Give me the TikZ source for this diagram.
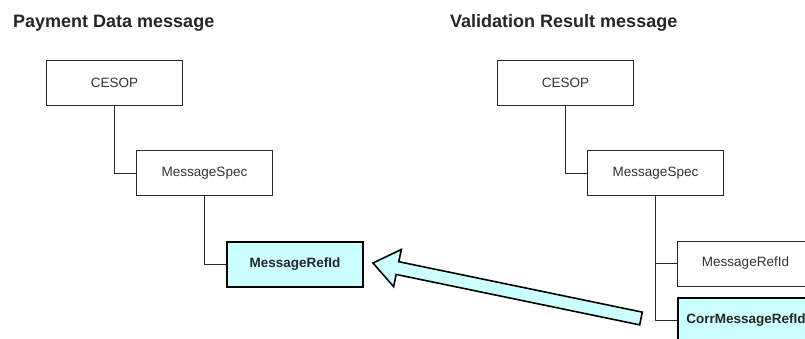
\documentclass[tikz,border=0pt]{standalone}
\usepackage{fontspec}
\setmainfont{Liberation Sans}
\usetikzlibrary{calc}
\definecolor{hl}{RGB}{204,255,255}
\definecolor{txt}{RGB}{51,51,51}
\definecolor{edge}{RGB}{40,40,40}
\begin{document}
\begin{tikzpicture}[x=1pt,y=-1pt,
  box/.style={draw=edge,line width=1pt,fill=white,minimum width=136pt,minimum height=45pt,inner sep=0pt,font=\fontsize{13.5}{15}\selectfont,text=txt,anchor=north west},
  hbox/.style={draw=black,line width=2pt,fill=hl,minimum width=136pt,minimum height=45pt,inner sep=0pt,font=\fontsize{13.5}{15}\selectfont\bfseries,text=black!85,anchor=north west},
  title/.style={font=\fontsize{18}{20}\selectfont\bfseries,text=black!85,anchor=base west,inner sep=0pt},
  link/.style={draw=edge,line width=1pt}]
\useasboundingbox (0,0) rectangle (805,338);
\clip (0,0) rectangle (805,338);
\fill[white] (0,0) rectangle (805,338);
% titles
\node[title] (t1) at (13,27) {Payment Data message};
\node[title] (t2) at (450,27) {Validation Result message};
% left tree
\node[box] (c1) at (46,60) {CESOP};
\node[box] (s1) at (136,150) {MessageSpec};
\node[hbox] (r1) at (226,240.5) {MessageRefId};
\draw[link] (c1.south) |- (s1.west);
\draw[link] (s1.south) |- (r1.west);
% right tree
\node[box] (c2) at (497,60) {CESOP};
\node[box] (s2) at (587,150) {MessageSpec};
\node[box] (r2) at (677,240.5) {MessageRefId};
\node[hbox] (r3) at (677,297) {CorrMessageRefId};
\draw[link] (c2.south) |- (s2.west);
\draw[link] (s2.south) |- (r2.west);
\draw[link] (s2.south) |- (r3.west);
% big block arrow
\coordinate (atip) at (373,263);
\coordinate (atail) at (641,318.5);
\coordinate (ab) at ($(atip)!25pt!(atail)$);
\fill[hl,draw=black,line width=1.6pt,line join=miter]
  (atip)
  -- ($(ab)!19pt!90:(atip)$)
  -- ($(ab)!6.5pt!90:(atip)$)
  -- ($(atail)!6.5pt!90:(atip)$)
  -- ($(atail)!6.5pt!-90:(atip)$)
  -- ($(ab)!6.5pt!-90:(atip)$)
  -- ($(ab)!19pt!-90:(atip)$)
  -- cycle;
\end{tikzpicture}
\end{document}
